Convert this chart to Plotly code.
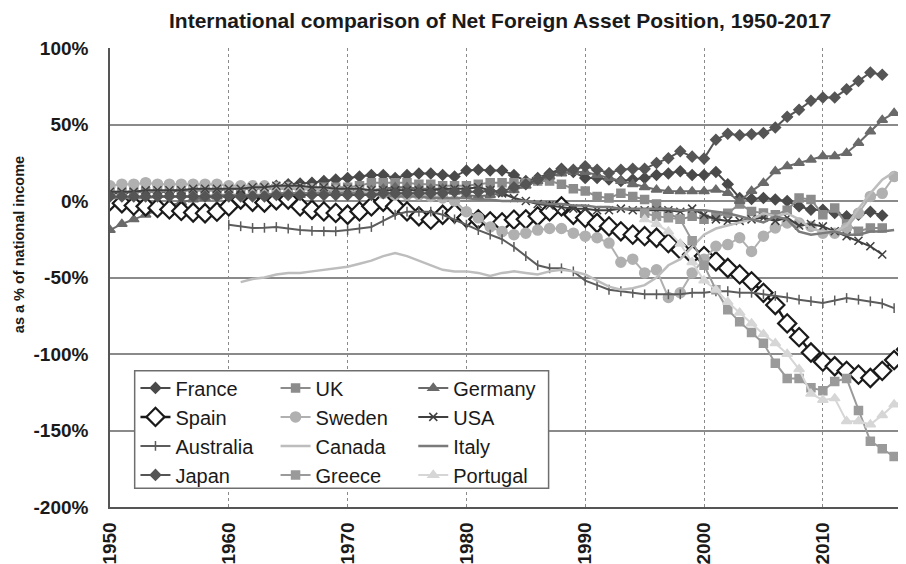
import plotly.graph_objects as go

# net foreign assets, % of national income
france_start = 1950
france = [5, 5, 6, 6, 6, 6, 7, 7, 7, 7,
          8, 8, 8, 9, 10, 11, 11.5, 12, 13, 14,
          15, 16, 17, 17, 15, 17, 18, 18, 17, 16,
          20, 20.5, 20, 20, 17, 13, 15, 18, 21, 19,
          15, 15, 14, 13, 14, 15, 17, 18, 19.4, 17,
          17, 19, 11, 2, 1.3, 2, 1, 0, -3.5, -5.7,
          -5.7, -7.8, -10, -9, -7, -9.5]

uk_start = 1950
uk = [6, 6, 6, 6, 6, 7, 7, 7, 7, 7,
      8, 8, 8, 8, 8, 8, 8, 8, 9, 9,
      9, 10, 12, 12, 12, 12, 11, 11, 10, 10,
      10, 11, 12, 12, 12, 12, 13, 13, 11, 8,
      6.5, 3, 2, 5, 3, 1, -2, -8, -12, -10,
      -12, -10, -8, -2, -6.8, -7.8, -9, -6, 2, 1,
      -9, -4.6, -15, -19.8, -17.6, -17.6]

germany_start = 1950
germany = [-19, -15, -12, -9, -6, -3, -1, 1, 2, 3,
           4, 4, 4, 4, 4, 4, 4, 5, 6, 7,
           7, 7, 7, 8, 9, 9, 8, 8, 8, 6,
           4, 3, 4, 5, 7, 10, 13, 16, 18, 19,
           19, 17, 15, 13, 11, 9, 7.4, 6.5, 6.3, 6.3,
           6.3, 7.4, 5.2, 0, 6.5, 11.8, 19.4, 22.7, 24.8, 27,
           29.2, 29.2, 31.4, 37.9, 45.5, 53, 57.5]

spain_start = 1950
spain = [0, -1.5, -3, -3.5, -4.5, -5.5, -6.5, -7.5, -8, -7,
         -3.5, 1, -0.5, -1, 0.5, 1, -3.5, -5.7, -6.8, -7.8,
         -9, -6.8, -3.5, -0.5, -3.5, -6.8, -10, -12.2, -9, -8,
         -11, -12, -13.3, -14, -12.2, -12, -10, -6.8, -3.5, -9,
         -11, -14.4, -16.6, -19.8, -22, -23, -24, -27.5, -31.8, -35,
         -36, -39.4, -43.8, -48, -52.5, -60, -68, -80, -89, -99,
         -105, -108, -111, -113.5, -115.7, -111, -104, -97]

sweden_start = 1950
sweden = [10, 11, 11, 12, 11, 11, 11, 11, 11, 11,
          10, 10, 10, 10, 9, 9, 8, 8, 7, 7,
          6, 6, 5, 5, 4, 4, 4, 3, 2, 0,
          -7, -11, -17, -20, -22, -21, -19, -18, -18, -21,
          -23, -24, -27.5, -40, -38, -47, -45, -63, -60, -47,
          -38, -29.6, -28.5, -24, -33, -23, -17.6, -14.4, -14.4, -16.6,
          -21, -21, -17.6, -8, 3, 5, 16]

usa_start = 1950
usa = [6, 6, 6, 7, 7, 7, 7, 8, 8, 8,
       8, 8, 9, 9, 10, 10, 10, 9, 9, 8,
       8, 8, 7, 7, 7, 7, 7, 7, 8, 8,
       8, 9, 7, 5, 2, 0, -2, -3, -4, -5,
       -5, -6, -6, -5, -6, -6, -6, -6, -7, -5,
       -9, -12, -13, -13, -12, -11, -13, -11, -16, -15,
       -16.6, -19.8, -23, -26, -29.6, -35]

australia_start = 1960
australia = [-15.5, -16.5, -17.6, -17.5, -17, -18, -19, -19.5, -19.8, -19.8,
             -19, -18, -17, -13, -9, -7, -7, -7, -9, -12,
             -15.5, -19, -22, -25, -30, -36, -42, -44, -44, -46,
             -52, -55, -58, -59, -60, -61, -61, -61, -61, -60,
             -60, -59, -59, -60, -60, -61, -62, -63, -64.5, -65.5,
             -66.7, -65, -63.4, -64.5, -65.6, -67, -70]

canada_start = 1961
canada = [-53, -51, -50, -48, -47, -47, -46, -45, -44,
          -43, -41, -39, -36, -34, -36, -39, -42, -45, -46,
          -46, -47, -49, -47, -46, -47, -48, -46, -45, -46,
          -48, -52, -56, -58, -57, -55, -50, -42, -38, -30,
          -22, -18, -16, -14, -12, -8, -10, -8, -12, -18,
          -20, -20, -16, -5, 5, 14, 19]

italy_start = 1950
italy = [2, 2, 2, 2, 3, 3, 3, 3, 3, 4,
         4, 4, 4, 4, 5, 5, 5, 5, 5, 5,
         5, 5, 4, 4, 3, 3, 3, 2, 2, 2,
         2, 1, 1, 0, 0, 0, -1, -2, -2, -3,
         -3, -4, -4, -5, -5, -5, -5, -5, -6, -6,
         -6, -7, -8, -10, -12, -14, -10, -12, -20, -22,
         -21, -20, -22, -22, -20, -20, -19]

japan_start = 1950
japan = [3, 3, 3, 3, 3, 3, 3, 3, 3, 3,
         3, 3, 3, 3, 4, 4, 4, 4, 4, 4,
         4, 4, 4, 5, 5, 5, 5, 5, 5, 6,
         6, 6, 6.5, 6.3, 9, 11, 14, 17, 20, 20.5,
         22.7, 20.5, 18.3, 20.5, 21, 21, 24.8, 28, 32.5, 29,
         27.7, 40, 44, 43, 43.6, 44.4, 48, 55, 59.7, 65.5,
         67.7, 67.7, 73, 78.5, 84, 82.5]

greece_start = 1995
greece = [-8, -10, -11, -12, -26, -42, -58, -71, -79, -86,
          -93, -106, -116, -116, -122, -124, -118, -116, -137, -157,
          -162, -167, -169]

portugal_start = 1995
portugal = [-12, -15, -20, -28, -40, -52, -58, -66, -73, -80,
            -87, -93, -100, -110, -126, -130, -129, -144, -144, -146,
            -140, -133, -130]

x_ticks = [1950, 1960, 1970, 1980, 1990, 2000, 2010]
y_ticks = [100, 50, 0, -50, -100, -150, -200]

FONT = "Liberation Sans, Arial, sans-serif"

# name, start, values, colour, symbol, size, legend
series = [
    ("France", france_start, france, "#4a4a4a", "diamond", 8, "legend"),
    ("UK", uk_start, uk, "#8c8c8c", "square", 8, "legend2"),
    ("Germany", germany_start, germany, "#6a6a6a", "triangle-up", 9, "legend3"),
    ("Spain", spain_start, spain, "#1a1a1a", "diamond", 14, "legend"),
    ("Sweden", sweden_start, sweden, "#b0b0b0", "circle", 10, "legend2"),
    ("USA", usa_start, usa, "#404040", "x-thin-open", 8, "legend3"),
    ("Australia", australia_start, australia, "#5c5c5c", "line-ns-open", 7, "legend"),
    ("Canada", canada_start, canada, "#bdbdbd", None, 0, "legend2"),
    ("Italy", italy_start, italy, "#7a7a7a", None, 0, "legend3"),
    ("Japan", japan_start, japan, "#555555", "diamond", 8, "legend"),
    ("Greece", greece_start, greece, "#9a9a9a", "square", 8, "legend2"),
    ("Portugal", portugal_start, portugal, "#d6d6d6", "triangle-up", 9, "legend3"),
]

fig = go.Figure()
for name, start, vals, col, sym, size, leg in series:
    yrs = list(range(start, start + len(vals)))
    if sym is None:
        fig.add_trace(go.Scatter(x=yrs, y=vals, name=name, mode="lines",
                                 line=dict(color=col, width=2.5), legend=leg))
    elif name == "Spain":
        fig.add_trace(go.Scatter(x=yrs, y=vals, name=name, mode="lines+markers",
                                 line=dict(color=col, width=2.5),
                                 marker=dict(symbol=sym, size=size, color="white",
                                             line=dict(color=col, width=2.2)),
                                 legend=leg))
    else:
        fig.add_trace(go.Scatter(x=yrs, y=vals, name=name, mode="lines+markers",
                                 line=dict(color=col, width=2),
                                 marker=dict(symbol=sym, size=size, color=col,
                                             line=dict(color=col, width=1.5)),
                                 legend=leg))

leg_common = dict(font=dict(family=FONT, size=20, color="#1a1a1a"),
                  bgcolor="rgba(0,0,0,0)", borderwidth=0, itemwidth=30,
                  yanchor="top", xanchor="left", y=0.302, tracegroupgap=0)

fig.add_shape(type="rect", xref="paper", yref="paper",
              x0=0.031, x1=0.551, y0=0.041, y1=0.297,
              line=dict(color="#6e6e6e", width=1.5), fillcolor="white", layer="above")

# y-axis title sits above the axis centre in the original, so it is an annotation
fig.add_annotation(text="<b>as a % of national income</b>", textangle=-90,
                   xref="paper", yref="paper", x=-0.114, y=0.571,
                   xanchor="center", yanchor="middle",
                   showarrow=False, font=dict(family=FONT, size=14.5, color="#1a1a1a"))

# the page body adds an 8px margin, so the figure is 8px smaller than the window
fig.update_layout(
    width=898, height=556,
    margin=dict(l=102, r=0, t=40, b=57),
    paper_bgcolor="white", plot_bgcolor="white",
    font=dict(family=FONT, color="#1a1a1a"),
    title=dict(text="<b>International comparison of Net Foreign Asset Position, 1950-2017</b>",
               x=0.49, xref="paper", y=0.978, yanchor="middle",
               font=dict(family=FONT, size=21, color="#1a1a1a")),
    legend=dict(x=0.032, **leg_common),
    legend2=dict(x=0.208, **leg_common),
    legend3=dict(x=0.381, **leg_common),
    xaxis=dict(range=[1950, 2017], tickvals=x_ticks,
               ticktext=["<b>%d</b>" % t for t in x_ticks],
               tickangle=-90, tickfont=dict(family=FONT, size=19, color="#1a1a1a"),
               showgrid=True, gridcolor="#8a8a8a", griddash="dot", gridwidth=1,
               showline=True, linecolor="#555555", linewidth=1.5,
               zeroline=False, ticks="", ticklabelstandoff=6, automargin=False),
    yaxis=dict(range=[-200, 100], tickvals=y_ticks,
               ticktext=["<b>%d%%</b>" % t for t in y_ticks],
               tickfont=dict(family=FONT, size=19, color="#1a1a1a"),
               showgrid=True, gridcolor="#8a8a8a", gridwidth=1.5,
               showline=True, linecolor="#555555", linewidth=1.5,
               zeroline=False, ticks="", ticklabelstandoff=16, automargin=False),
)

fig.write_html("out.html")
